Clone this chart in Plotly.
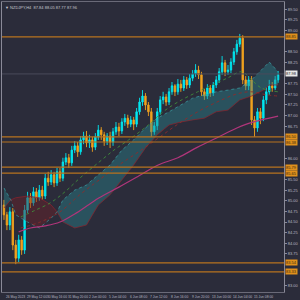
import plotly.graph_objects as go

# ---------------- data ----------------
symbol_text = "\u25BC NZDJPY,H4  87.84 88.05 87.77 87.96"

opens = [84.90,84.67,84.43,84.74,83.96,83.65,84.08,83.84,84.78,85.07,
         84.95,85.21,85.07,85.25,85.11,85.53,85.44,85.61,85.42,85.68,
         85.53,85.91,86.01,85.89,86.19,86.29,86.15,86.43,86.52,86.36,
         86.43,86.26,86.50,86.66,86.55,86.40,86.52,86.38,86.62,86.73,
         86.64,86.85,86.94,86.80,86.90,86.80,87.09,87.32,87.46,87.25,
         87.09,86.62,86.76,87.09,87.37,87.44,87.32,87.56,87.70,87.56,
         87.74,87.65,87.84,87.72,87.88,87.98,88.07,87.96,87.56,87.46,
         87.65,87.53,87.72,87.84,88.03,88.24,88.03,88.07,88.26,88.50,
         88.68,88.82,87.84,87.70,87.84,86.90,86.71,87.09,86.94,87.37,
         87.56,87.70,87.65,87.84]
closes = [84.67,84.43,84.74,83.96,83.65,84.08,83.84,84.78,85.07,84.95,
          85.21,85.07,85.25,85.11,85.53,85.44,85.61,85.42,85.68,85.53,
          85.91,86.01,85.89,86.19,86.29,86.15,86.43,86.52,86.36,86.43,
          86.26,86.50,86.66,86.55,86.40,86.52,86.38,86.62,86.73,86.64,
          86.85,86.94,86.80,86.90,86.80,87.09,87.32,87.46,87.25,87.09,
          86.62,86.76,87.09,87.37,87.44,87.32,87.56,87.70,87.56,87.74,
          87.65,87.84,87.72,87.88,87.98,88.07,87.96,87.56,87.46,87.65,
          87.53,87.72,87.84,88.03,88.24,88.03,88.07,88.26,88.50,88.68,
          88.82,87.84,87.70,87.84,86.90,86.71,87.09,86.94,87.37,87.56,
          87.70,87.65,87.84,87.96]
highs = [85.02,84.74,84.85,84.83,84.08,84.20,84.17,84.90,85.21,85.18,
         85.32,85.30,85.37,85.35,85.63,85.68,85.72,85.68,85.77,85.77,
         86.01,86.12,86.10,86.29,86.40,86.38,86.52,86.62,86.64,86.55,
         86.50,86.59,86.78,86.73,86.62,86.59,86.62,86.71,86.85,86.83,
         86.94,87.04,87.02,86.99,86.97,87.18,87.42,87.60,87.53,87.32,
         87.18,86.85,87.18,87.46,87.56,87.51,87.65,87.79,87.74,87.86,
         87.84,87.93,87.91,87.98,88.07,88.21,88.17,88.03,87.63,87.74,
         87.72,87.79,87.93,88.12,88.40,88.31,88.19,88.35,88.59,88.78,
         88.92,88.89,87.93,87.93,87.93,86.99,87.18,87.18,87.46,87.67,
         87.84,87.79,87.93,88.05]
lows = [84.55,84.31,84.31,83.84,83.51,83.56,83.73,83.75,84.71,84.83,
        84.88,84.97,85.00,85.02,85.04,85.35,85.37,85.32,85.35,85.44,
        85.46,85.84,85.77,85.82,86.12,86.03,86.08,86.33,86.26,86.24,
        86.15,86.19,86.43,86.43,86.29,86.31,86.24,86.29,86.55,86.52,
        86.57,86.76,86.71,86.73,86.66,86.73,87.02,87.23,87.13,86.99,
        86.50,86.55,86.66,87.02,87.27,87.23,87.25,87.49,87.46,87.49,
        87.56,87.58,87.63,87.65,87.81,87.91,87.86,87.46,87.37,87.39,
        87.44,87.46,87.65,87.77,87.96,87.93,87.96,88.00,88.19,88.43,
        88.61,87.74,87.60,87.60,86.78,86.50,86.62,86.80,86.87,87.27,
        87.49,87.56,87.60,87.77]

# Ichimoku cloud (bar index, span A, span B)
cloud_x = [0, 2.33, 4, 8, 12, 16, 18, 20, 24, 28, 32, 36, 40, 44, 48, 52,
           56, 60, 64, 68, 72, 76, 80, 84, 88, 90, 93]
span_a = [85.30, 85.02, 84.67, 84.50, 84.36, 84.59, 84.74, 85.02, 85.25, 85.37,
          85.61, 85.84, 86.19, 86.43, 86.71, 86.94, 87.09, 87.25, 87.41, 87.49,
          87.56, 87.60, 87.65, 87.84, 88.12, 88.26, 88.03]
span_b = [84.83, 85.02, 85.07, 85.11, 85.07, 84.90, 84.74, 84.50, 84.36, 84.43,
          84.90, 85.14, 85.49, 85.84, 86.24, 86.55, 86.78, 86.85, 86.90, 86.94,
          87.09, 87.13, 87.37, 87.46, 87.60, 87.72, 87.72]

# moving averages (bar index, value)
ma_slow_x = [5, 9, 14, 19, 24, 29, 32.3, 39, 45.7, 52.3, 59, 65.7, 72.3, 79, 82.3, 87.3, 93]
ma_slow_y = [84.27, 84.36, 84.41, 84.50, 84.69, 84.92, 85.07, 85.32, 85.58, 85.84,
             86.01, 86.26, 86.48, 86.71, 86.80, 86.90, 86.99]
ma_mid_x = [5.7, 12.3, 19, 25.7, 32.3, 39, 45.7, 52.3, 59, 65.7, 72.3, 79, 84, 89, 93]
ma_mid_y = [84.36, 84.50, 84.74, 85.14, 85.49, 85.84, 86.15, 86.47, 86.80, 87.09,
            87.32, 87.51, 87.56, 87.49, 87.46]
ma_fast_x = [5.7, 10.7, 15.7, 20.7, 25.7, 32.3, 37.3, 42.3, 49, 54, 59, 65.7, 70.7,
             75.7, 80.7, 84, 87.3, 93]
ma_fast_y = [84.62, 84.78, 84.95, 85.21, 85.53, 85.91, 86.19, 86.43, 86.78, 87.09,
             87.32, 87.56, 87.72, 87.88, 88.03, 87.84, 87.65, 87.56]

# horizontal levels
levels = [88.85, 86.50, 86.38, 85.79, 85.65, 83.54, 83.33]
bid_price = 87.98

# y tick labels
y_ticks_all = [83.00 + 0.25 * k for k in range(27)]

# date labels (bar index, text)
date_pos = [0, 7, 14, 21, 28, 35, 42, 49, 56, 63, 70, 77, 84]
date_txt = ["26 May 2023", "29 May 12:00", "30 May 16:00", "31 May 20:00",
            "2 Jun 00:00", "5 Jun 04:00", "6 Jun 08:00", "7 Jun 12:00",
            "8 Jun 16:00", "9 Jun 20:00", "13 Jun 00:00", "14 Jun 04:00",
            "15 Jun 08:00"]

# ---------------- figure ----------------
BG = "#2b2c3a"
CYAN = "#00e8f0"
ORANGE = "#f0a21e"
LEVEL = "#b8731f"

marked = levels + [bid_price]
y_ticks = [v for v in y_ticks_all if all(abs(v - m) > 0.13 for m in marked)]

fig = go.Figure()

def segments(xs, a, b):
    groups, cur, cur_sign = [], [], 0
    for i in range(len(xs)):
        s = (a[i] > b[i]) - (a[i] < b[i])
        cur.append(i)
        if s != 0 and cur_sign == 0:
            cur_sign = s
        if s == 0 and len(cur) > 1:
            groups.append((cur_sign, cur))
            cur, cur_sign = [i], 0
    if len(cur) > 1:
        groups.append((cur_sign, cur))
    return groups

for sgn, ids in segments(cloud_x, span_a, span_b):
    xs = [cloud_x[i] for i in ids]
    ya = [span_a[i] for i in ids]
    yb = [span_b[i] for i in ids]
    fill = "rgba(40,135,145,0.42)" if sgn >= 0 else "rgba(110,30,40,0.45)"
    fig.add_trace(go.Scatter(x=xs + xs[::-1], y=ya + yb[::-1], fill="toself",
                             fillcolor=fill, line=dict(width=0), mode="lines",
                             hoverinfo="skip", showlegend=False))
fig.add_trace(go.Scatter(x=cloud_x, y=span_a, mode="lines",
                         line=dict(color="rgba(60,170,175,0.8)", width=0.8, dash="dot"),
                         showlegend=False))
fig.add_trace(go.Scatter(x=cloud_x, y=span_b, mode="lines",
                         line=dict(color="rgba(140,35,45,0.9)", width=0.8),
                         showlegend=False))

fig.add_trace(go.Scatter(x=ma_slow_x, y=ma_slow_y, mode="lines", line_shape="spline",
                         line=dict(color="#b0357a", width=1.2), showlegend=False))
fig.add_trace(go.Scatter(x=ma_mid_x, y=ma_mid_y, mode="lines", line_shape="spline",
                         line=dict(color="#8e2a2a", width=0.9, dash="dot"), showlegend=False))
fig.add_trace(go.Scatter(x=ma_fast_x, y=ma_fast_y, mode="lines", line_shape="spline",
                         line=dict(color="#3f8f3a", width=0.9, dash="dot"), showlegend=False))

fig.add_trace(go.Candlestick(
    x=list(range(len(opens))), open=opens, high=highs, low=lows, close=closes,
    increasing=dict(line=dict(color=CYAN, width=0.9), fillcolor=CYAN),
    decreasing=dict(line=dict(color=ORANGE, width=0.9), fillcolor=ORANGE),
    whiskerwidth=0, showlegend=False, hoverinfo="skip"))

for lv in levels:
    fig.add_hline(y=lv, line=dict(color=LEVEL, width=1.2))
fig.add_hline(y=bid_price, line=dict(color="#4a4b5a", width=1))

annotations = []
for lv in levels:
    annotations.append(dict(x=1.0, xref="paper", y=lv, yref="y", text=f"{lv:.2f}",
                            showarrow=False, xanchor="left", yanchor="middle",
                            xshift=1, bgcolor="#e0901c", borderpad=0,
                            font=dict(size=4, color="#3a2a10", family="Liberation Sans")))
annotations.append(dict(x=1.0, xref="paper", y=bid_price, yref="y", text=f"{bid_price:.2f}",
                        showarrow=False, xanchor="left", yanchor="middle", xshift=1,
                        bgcolor="#e8e8e8", borderpad=0,
                        font=dict(size=4, color="#202020", family="Liberation Sans")))
for p, t in zip(date_pos, date_txt):
    annotations.append(dict(x=p, xref="x", y=0, yref="paper", text=t, showarrow=False,
                            xanchor="left", yanchor="top", yshift=-1,
                            font=dict(size=3.3, color="#b8b8c0", family="Liberation Sans")))
annotations.append(dict(x=0.005, xref="paper", y=1, yref="paper", text=symbol_text,
                        showarrow=False, xanchor="left", yanchor="top", yshift=-1,
                        font=dict(size=4, color="#c8c8d0", family="Liberation Sans")))

fig.update_layout(
    width=300, height=300, margin=dict(l=1, r=12, t=2, b=8),
    paper_bgcolor=BG, plot_bgcolor=BG, showlegend=False,
    annotations=annotations,
    xaxis=dict(range=[-0.667, 95.0], showgrid=False, zeroline=False,
               showticklabels=False, rangeslider=dict(visible=False),
               showline=True, linecolor="#6a6a78", linewidth=1, mirror=True,
               ticks=""),
    yaxis=dict(range=[82.856, 89.67], side="right", showgrid=False, zeroline=False,
               tickvals=y_ticks, ticktext=[f"{v:.2f}" for v in y_ticks],
               tickfont=dict(size=4, color="#b8b8c0", family="Liberation Sans"),
               ticks="outside", ticklen=2, tickcolor="#8a8a98",
               showline=True, linecolor="#8a8a98", linewidth=1, mirror=True),
)

fig.write_html("out.html")
